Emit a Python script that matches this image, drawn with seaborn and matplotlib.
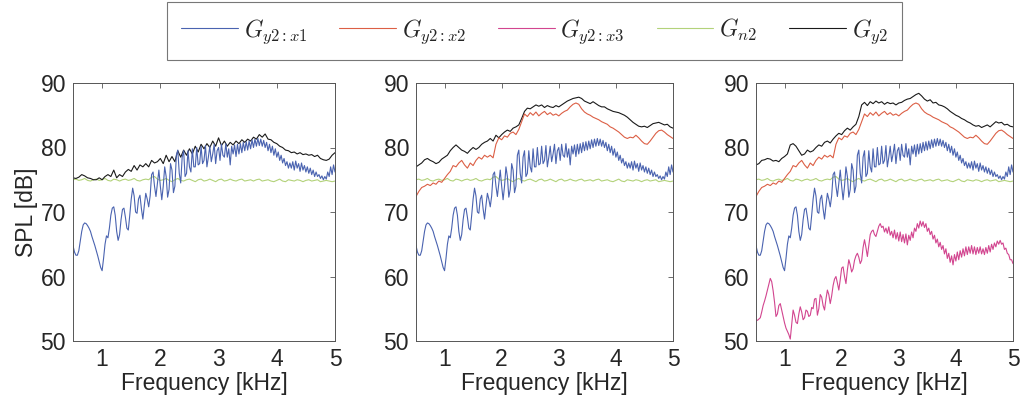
import numpy as np
import pandas as pd
import matplotlib
matplotlib.use("Agg")
import matplotlib.pyplot as plt
from matplotlib.lines import Line2D
import seaborn as sns

# ---------------------------------------------------------------------------
# Spectra (SPL in dB) on two frequency grids (kHz)
# ---------------------------------------------------------------------------
freq_fine = np.round(np.arange(0.5, 5.0 + 1e-9, 0.025), 3)    # 181 points
freq_coarse = np.round(np.arange(0.5, 5.0 + 1e-9, 0.05), 3)   # 91 points

# G_y2:x1 (same in all three panels)
spl_y2_x1 = [
    64.8, 63.8, 63.3, 63.3, 64.0, 65.5, 67.0, 68.0, 68.3, 68.2,
    67.9, 67.5, 67.0, 66.2, 65.5, 64.8, 64.0, 63.2, 62.3, 61.4,
    60.9,
    62.8, 65.0, 66.3, 66.0, 67.5, 69.5, 70.6, 70.8, 69.5, 67.0,
    65.6, 66.5, 68.8, 70.4, 70.6, 69.2, 67.5, 67.2, 69.5, 72.0,
    73.7, 72.5, 70.0, 69.8, 72.0, 72.6, 70.5, 68.9, 71.0, 72.9,
    72.0, 70.8, 72.5, 75.8, 76.2, 74.0, 72.4, 74.5, 76.5, 74.0,
    71.9, 74.0, 77.0, 75.5, 72.3, 73.5, 77.5, 76.5, 73.0, 74.0,
    78.8, 79.6, 76.0, 74.5, 78.5, 79.5, 75.5, 76.0, 79.5, 77.0,
    76.2, 79.8, 77.0, 77.0, 80.0, 77.3, 77.5, 80.2, 77.5, 78.0,
    80.3, 77.0, 78.5, 80.2, 77.8, 79.0, 80.5, 77.5, 79.5, 80.0,
    78.0, 80.5, 78.8, 78.5, 80.6, 78.5, 79.8, 77.3, 80.2, 79.0,
    80.4, 78.6, 80.5, 79.0, 80.6, 79.2, 80.8, 79.5, 80.9, 79.6,
    81.0, 79.8, 81.2, 80.0, 81.3, 80.2, 81.4, 80.3, 81.3, 80.2,
    81.1, 80.0, 80.8, 79.5, 80.5, 79.2, 80.2, 78.8, 79.8, 78.5,
    79.3, 78.0, 78.8, 77.6, 78.3, 77.2, 77.8, 76.8, 77.6, 76.8,
    77.8, 76.5, 77.9, 76.8, 77.5, 76.3, 77.6, 76.5, 77.2, 76.2,
    77.0, 76.0, 76.8, 75.8, 76.5, 75.5, 76.2, 75.5, 75.8, 75.2,
    75.6, 75.0, 75.5, 75.1, 76.2, 75.5, 77.0, 75.8, 77.3, 76.2,
]

# G_y2:x3 (third panel only)
spl_y2_x3 = [
    53.3, 53.2, 53.4, 53.6, 54.5, 55.5, 56.2, 57.0, 57.9, 58.8,
    59.7, 59.2, 57.8, 56.0, 53.8, 54.2, 55.5, 55.8, 54.8, 53.8,
    52.8, 52.0, 51.5, 51.0, 50.3, 52.5, 54.8, 54.0, 52.9, 52.7,
    54.2, 55.3, 54.5, 53.3, 53.6, 54.8, 54.6, 53.8, 54.0, 55.2,
    55.0, 56.5, 56.6, 54.0, 55.0, 57.2, 56.8, 55.5, 54.8, 56.5,
    57.9, 57.2, 55.8, 57.0, 58.6, 59.6, 60.0, 59.0, 57.9, 59.5,
    61.3, 61.5, 60.0, 58.9, 61.0, 62.6, 61.8, 60.7, 61.2, 62.5,
    63.2, 63.6, 63.0, 62.0, 62.5, 64.5, 65.7, 64.5, 63.1, 64.8,
    66.5, 67.0, 67.2, 66.5, 66.2, 67.0, 67.8, 68.2, 67.6, 67.8,
    66.9, 67.5, 66.7, 67.7, 66.4, 67.0, 66.0, 67.2, 65.8, 66.8,
    65.5, 66.9, 65.4, 66.5, 65.2, 66.6, 64.9, 66.4, 65.6, 66.9,
    66.0, 67.5, 67.0, 68.2, 67.5, 68.6, 67.8, 68.5, 67.6, 68.2,
    67.0, 67.5, 66.5, 67.0, 65.8, 66.4, 65.2, 65.8, 64.6, 65.3,
    64.2, 64.8, 63.5, 64.3, 62.8, 63.6, 62.2, 63.2, 61.8, 63.4,
    62.4, 63.8, 62.6, 64.0, 63.0, 64.3, 63.2, 64.6, 63.4, 64.6,
    63.6, 64.8, 63.5, 64.6, 63.4, 64.5, 63.6, 64.6, 63.5, 64.3,
    63.4, 64.5, 63.6, 64.8, 63.8, 65.0, 64.2, 65.2, 64.6, 65.5,
    65.0, 65.6, 65.0, 65.2, 64.2, 64.4, 63.6, 63.4, 62.6, 62.6,
    62.0,
]

# G_n2 (same in all three panels)
spl_n2 = [
    75.0, 75.1, 74.9, 75.0, 75.2, 74.9, 74.8, 75.0, 75.1, 74.9,
    75.0, 75.2, 74.9, 74.8, 75.1, 75.0, 74.8, 75.0, 75.1, 74.9,
    75.0, 75.2, 74.9, 74.8, 75.0, 75.1, 75.0, 75.4, 75.5, 75.1,
    74.9, 75.0, 75.2, 74.9, 74.7, 75.0, 75.2, 74.9, 74.8, 75.0,
    75.1, 74.9, 74.7, 75.0, 75.1, 74.8, 74.9, 75.1, 74.9, 74.7,
    75.0, 75.1, 74.8, 74.9, 75.1, 74.9, 74.8, 75.0, 75.1, 74.8,
    74.9, 75.0, 74.8, 75.0, 75.1, 74.8, 74.9, 75.0, 74.8, 74.7,
    74.9, 75.1, 74.8, 74.7, 75.0, 74.9, 74.8, 75.0, 74.9, 74.7,
    74.9, 75.0, 74.8, 74.9, 75.0, 74.7, 74.8, 74.9, 74.8, 74.7,
    74.8,
]

# G_y2:x2 (second and third panels)
spl_y2_x2 = [
    72.4, 73.2, 73.8, 74.0, 74.3, 74.1, 74.5, 74.3, 74.8, 74.6,
    75.2, 75.8, 76.3, 77.2, 77.0, 77.6, 78.0, 77.3, 76.8, 77.6,
    77.2, 78.0, 78.5, 78.2, 78.8, 78.5, 78.8, 78.4, 80.5, 81.5,
    81.2, 81.8, 81.6, 82.2, 82.4, 82.0, 82.8, 84.0, 85.2, 84.8,
    85.4, 85.0, 85.5, 84.9, 85.3, 85.6, 85.1, 85.4, 85.0, 85.2,
    84.9, 85.3, 85.6, 85.8, 86.3, 86.7, 86.9, 86.7, 86.0, 85.5,
    85.2, 85.0, 84.7, 84.5, 84.3, 84.0, 83.8, 83.6, 83.2, 83.0,
    82.7, 82.4, 82.0, 81.6, 81.4, 81.6, 81.5, 81.9, 81.5, 81.0,
    80.6, 80.5, 81.0, 81.6, 82.2, 82.6, 82.7, 82.4, 82.0, 81.7,
    81.4,
]

# G_y2, one total per panel
spl_y2_a = [
    75.3, 75.2, 75.4, 75.8, 75.6, 75.3, 75.2, 75.0, 75.0, 75.3,
    75.0, 75.5, 75.8, 75.5, 76.5, 75.3, 75.8, 75.5, 76.2, 76.6,
    76.3, 77.2, 76.5, 77.3, 77.0, 77.5, 77.0, 78.0, 77.6, 77.8,
    78.3, 77.5, 78.8, 77.8, 78.6, 77.8, 79.5, 78.5, 79.6, 78.8,
    79.8, 79.0, 80.2, 79.3, 80.5, 79.8, 80.6, 80.0, 81.0, 80.2,
    81.5, 80.3, 81.0, 80.2, 80.8, 80.4, 81.0, 80.6, 81.2, 80.8,
    81.3, 81.0, 81.6, 81.3, 82.0, 81.6, 82.1, 81.3, 81.2, 80.8,
    80.6, 80.2, 80.0, 79.6, 79.5, 79.2, 79.3, 79.0, 79.2, 78.9,
    79.0, 78.8, 78.9, 78.6, 78.8, 78.3, 78.1, 78.0, 78.2, 78.8,
    79.2,
]
spl_y2_b = [
    77.0, 77.3, 77.6, 78.1, 78.3, 78.0, 77.8, 77.5, 77.7, 78.2,
    78.5, 78.8, 79.5, 80.0, 80.4, 80.0, 79.6, 79.4, 79.1, 79.6,
    80.0, 79.7, 80.0, 80.5, 80.8, 81.0, 81.4, 81.0, 81.9, 81.5,
    82.0, 82.4, 82.7, 82.5, 83.0, 83.2, 83.5, 84.5, 85.6, 86.1,
    86.0, 86.3, 86.6, 86.4, 86.6, 86.2, 86.5, 86.3, 86.2, 86.5,
    86.3, 86.6, 86.9, 87.2, 87.4, 87.6, 87.7, 87.8, 87.6, 87.2,
    87.0, 86.8, 87.1, 86.8, 86.5, 86.3, 86.3, 86.0, 85.8, 85.6,
    85.5, 85.4, 85.2, 85.0, 84.7, 84.3, 83.9, 83.6, 83.3, 83.2,
    83.3, 83.1, 83.4, 83.7, 83.8, 83.9, 83.7, 83.5, 83.6, 83.2,
    83.0,
]
spl_y2_c = [
    77.3, 77.5, 78.0, 78.1, 78.3, 78.2, 77.9, 78.0, 77.8, 78.3,
    78.6, 79.0, 80.4, 80.6, 80.2, 79.5, 78.8, 79.0, 79.6, 79.3,
    79.5, 80.0, 80.4, 80.2, 80.8, 81.0, 80.7, 81.3, 81.8, 82.2,
    82.0, 82.6, 83.0, 82.7, 83.2, 83.6, 84.8, 86.6, 87.0, 86.5,
    87.1, 86.8, 87.2, 86.9, 87.1, 86.7, 87.0, 86.8, 86.9, 86.6,
    86.9, 87.0, 87.3, 87.5, 87.6, 87.9, 88.2, 88.4, 88.0, 87.5,
    87.2, 87.4, 86.9, 87.0, 86.6, 86.5, 86.3, 86.0, 85.6, 85.3,
    85.0, 84.8, 84.5, 84.3, 84.0, 83.8, 83.5, 83.3, 83.4, 83.1,
    83.3, 83.5, 83.2, 83.6, 84.0, 83.8, 83.9, 83.5, 83.6, 83.3,
    83.2,
]

x_ticks = [1, 2, 3, 4, 5]
y_ticks = [50, 60, 70, 80, 90]

labels = {
    "y2x1": r"$G_{y2{:}x1}$",
    "y2x2": r"$G_{y2{:}x2}$",
    "y2x3": r"$G_{y2{:}x3}$",
    "n2": r"$G_{n2}$",
    "y2": r"$G_{y2}$",
}
colors = {
    "y2x1": "#4a63b0",
    "y2x2": "#dc5f45",
    "y2x3": "#d2458f",
    "n2": "#b3d27a",
    "y2": "#1a1a1a",
}

fine = pd.DataFrame({"freq": freq_fine, "y2x1": spl_y2_x1, "y2x3": spl_y2_x3})
coarse = pd.DataFrame({"freq": freq_coarse, "n2": spl_n2, "y2x2": spl_y2_x2,
                       "y2_a": spl_y2_a, "y2_b": spl_y2_b, "y2_c": spl_y2_c})

# ---------------------------------------------------------------------------
sns.set_style("white")
plt.rcParams["font.family"] = ["Liberation Sans", "DejaVu Sans"]
plt.rcParams["mathtext.fontset"] = "cm"
text_color = "#262626"

fig = plt.figure(figsize=(10.24, 4.05), dpi=100)
W, H = 1024, 405
boxes = [(73, 335), (416, 673), (756, 1013)]
top_px, bot_px = 83, 341
axes = [fig.add_axes([l / W, (H - bot_px) / H, (r - l) / W, (bot_px - top_px) / H])
        for l, r in boxes]

lw = 0.8
panels = [
    ["n2", "y2_a", "y2x1"],
    ["n2", "y2_b", "y2x2", "y2x1"],
    ["n2", "y2_c", "y2x2", "y2x1", "y2x3"],
]
for ax, series in zip(axes, panels):
    for key in series:
        df = fine if key in fine.columns else coarse
        ckey = "y2" if key.startswith("y2_") else key
        sns.lineplot(data=df, x="freq", y=key, ax=ax, color=colors[ckey],
                     linewidth=lw, estimator=None, sort=False)
    ax.set_xlim(0.5, 5.0)
    ax.set_ylim(50, 90)
    ax.set_xticks(x_ticks)
    ax.set_yticks(y_ticks)
    ax.set_xticklabels([str(t) for t in x_ticks])
    ax.set_yticklabels([str(t) for t in y_ticks])
    ax.tick_params(direction="in", length=3.5, width=0.6, top=True, right=True,
                   labelsize=16.5, colors="#555555", labelcolor=text_color, pad=5)
    for sp in ax.spines.values():
        sp.set_color("#555555")
        sp.set_linewidth(0.7)
    ax.set_xlabel("Frequency [kHz]", fontsize=16.5, color=text_color, labelpad=1)
    ax.set_ylabel("")

axes[0].set_ylabel("SPL [dB]", fontsize=16.5, color=text_color, labelpad=2)

order = ["y2x1", "y2x2", "y2x3", "n2", "y2"]
handles = [Line2D([], [], color=colors[k], linewidth=0.8) for k in order]
leg = fig.legend(handles, [labels[k] for k in order], ncol=5,
                 loc="center", bbox_to_anchor=(534.5 / W, (H - 31) / H),
                 fontsize=17, frameon=True, fancybox=False, edgecolor="#555555",
                 handlelength=2.4, handletextpad=0.25, columnspacing=1.35,
                 borderpad=0.6, borderaxespad=0.0)
leg.get_frame().set_linewidth(0.8)

fig.savefig("out.png", dpi=100, facecolor="white")
